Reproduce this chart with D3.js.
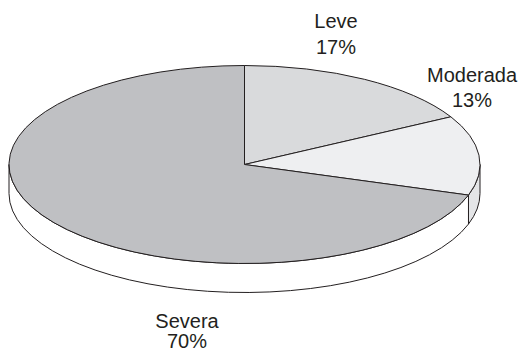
<!DOCTYPE html>
<html>
<head>
<meta charset="utf-8">
<script src="https://d3js.org/d3.v7.min.js"></script>
<style>
  html, body { margin: 0; padding: 0; background: #fff; }
  text { font-family: "Liberation Sans", Arial, sans-serif; fill: #231f20; }
</style>
</head>
<body>
<div id="chart"></div>
<script>
// data
var categories = ['Leve', 'Moderada', 'Severa'];
var values = [17, 13, 70];
var percentLabels = ['17%', '13%', '70%'];

// layout
var width = 522, height = 354;
var cx = 244.5, cy = 164.5, rx = 235.5, ry = 99, depth = 29;
var topColors = ['#d9dadc', '#eeeff1', '#bfc0c3'];
var sideColors = ['#ffffff', '#e4e5e7', '#ffffff'];
var strokeColor = '#231f20';
// label anchors: x, baseline of first line, baseline of second line
var labelPos = {
  'Leve': [336, 28, 54],
  'Moderada': [472, 82, 107],
  'Severa': [187, 327.5, 348]
};

var svg = d3.select('#chart').append('svg')
  .attr('width', width)
  .attr('height', height);

var pie = d3.pie().sort(null).value(function (d) { return d.value; });
var arcs = pie(categories.map(function (c, i) {
  return { name: c, value: values[i], pct: percentLabels[i], i: i };
}));

function pt(a, dy) {
  return [cx + rx * Math.sin(a), cy - ry * Math.cos(a) + (dy || 0)];
}

function topPath(d) {
  var p0 = pt(d.startAngle), p1 = pt(d.endAngle);
  var large = (d.endAngle - d.startAngle) > Math.PI ? 1 : 0;
  return 'M' + cx + ',' + cy + 'L' + p0 + 'A' + rx + ',' + ry + ' 0 ' + large + ' 1 ' + p1 + 'Z';
}

// only the front half of the rim is visible
function sidePath(d) {
  var a = Math.max(d.startAngle, Math.PI / 2);
  var b = Math.min(d.endAngle, Math.PI * 3 / 2);
  if (b <= a) return null;
  var p0 = pt(a), p1 = pt(b), q0 = pt(a, depth), q1 = pt(b, depth);
  return 'M' + p0 + 'A' + rx + ',' + ry + ' 0 0 1 ' + p1 +
    'L' + q1 + 'A' + rx + ',' + ry + ' 0 0 0 ' + q0 + 'Z';
}

// sides
svg.append('g').selectAll('path')
  .data(arcs.filter(function (d) { return sidePath(d); }))
  .enter().append('path')
  .attr('d', sidePath)
  .attr('fill', function (d) { return sideColors[d.data.i]; })
  .attr('stroke', strokeColor)
  .attr('stroke-width', 1)
  .attr('stroke-linejoin', 'round');

// top faces
svg.append('g').selectAll('path')
  .data(arcs)
  .enter().append('path')
  .attr('d', topPath)
  .attr('fill', function (d) { return topColors[d.data.i]; })
  .attr('stroke', strokeColor)
  .attr('stroke-width', 1)
  .attr('stroke-linejoin', 'round');

// labels
var labels = svg.append('g').selectAll('g')
  .data(arcs)
  .enter().append('g');

labels.append('text')
  .attr('x', function (d) { return labelPos[d.data.name][0]; })
  .attr('y', function (d) { return labelPos[d.data.name][1]; })
  .attr('text-anchor', 'middle')
  .style('font-size', '20px')
  .text(function (d) { return d.data.name; });

labels.append('text')
  .attr('x', function (d) { return labelPos[d.data.name][0]; })
  .attr('y', function (d) { return labelPos[d.data.name][2]; })
  .attr('text-anchor', 'middle')
  .style('font-size', '20px')
  .text(function (d) { return d.data.pct; });
</script>
</body>
</html>
